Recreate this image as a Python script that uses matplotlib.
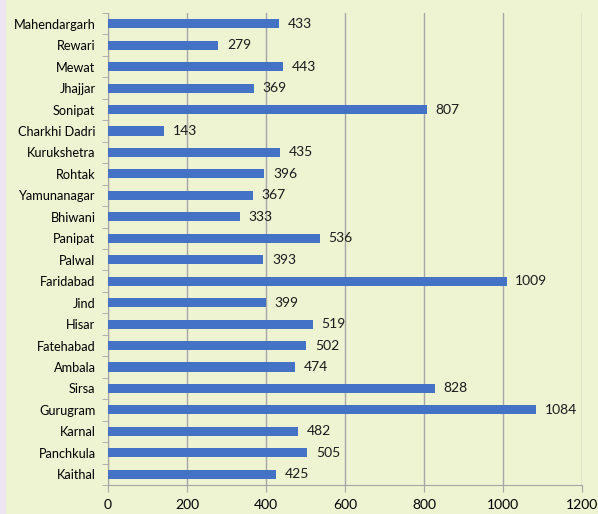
import matplotlib
matplotlib.use("Agg")
import matplotlib.pyplot as plt
from matplotlib.patches import Rectangle

districts = ["Mahendargarh", "Rewari", "Mewat", "Jhajjar", "Sonipat", "Charkhi Dadri",
             "Kurukshetra", "Rohtak", "Yamunanagar", "Bhiwani", "Panipat", "Palwal",
             "Faridabad", "Jind", "Hisar", "Fatehabad", "Ambala", "Sirsa", "Gurugram",
             "Karnal", "Panchkula", "Kaithal"]
values = [433, 279, 443, 369, 807, 143, 435, 396, 367, 333, 536, 393,
          1009, 399, 519, 502, 474, 828, 1084, 482, 505, 425]
xticks = [0, 200, 400, 600, 800, 1000, 1200]

plt.rcParams['font.family'] = ['Lato', 'DejaVu Sans']

bg = "#EEF3D2"
fig = plt.figure(figsize=(5.98, 5.14), dpi=100, facecolor=bg)
fig.patches.append(Rectangle((0, 0), 6 / 598, 1, transform=fig.transFigure,
                             facecolor="#EDE6F2", edgecolor="none"))
ax = fig.add_axes([108 / 598, 29 / 514, 474 / 598, 472 / 514])
ax.set_facecolor(bg)

ypos = list(range(len(districts)))
ax.barh(ypos, values, height=0.42, color="#4472C4", zorder=3)
for y, v in zip(ypos, values):
    ax.text(v + 22, y, str(v), va="center", ha="left", fontsize=10, color="#1a1a1a")

ax.set_ylim(len(districts) - 0.5, -0.5)
ax.set_yticks(ypos)
ax.set_yticklabels(districts, fontsize=9.2)
ax.set_xlim(0, 1200)
ax.set_xticks(xticks)
ax.set_xticklabels([str(t) for t in xticks], fontsize=10)
ax.set_yticks([i - 0.5 for i in range(len(districts) + 1)], minor=True)

ax.grid(axis="x", color="#A6A6A6", linewidth=1, zorder=0)
for s in ["top", "right"]:
    ax.spines[s].set_visible(False)
for s in ["left", "bottom"]:
    ax.spines[s].set_color("#A6A6A6")
ax.tick_params(axis="y", which="major", length=0, pad=9)
ax.tick_params(axis="y", which="minor", length=4, color="#A6A6A6")
ax.tick_params(axis="x", length=5, color="#A6A6A6", pad=5)

fig.savefig("out.png", dpi=100, facecolor=bg)
